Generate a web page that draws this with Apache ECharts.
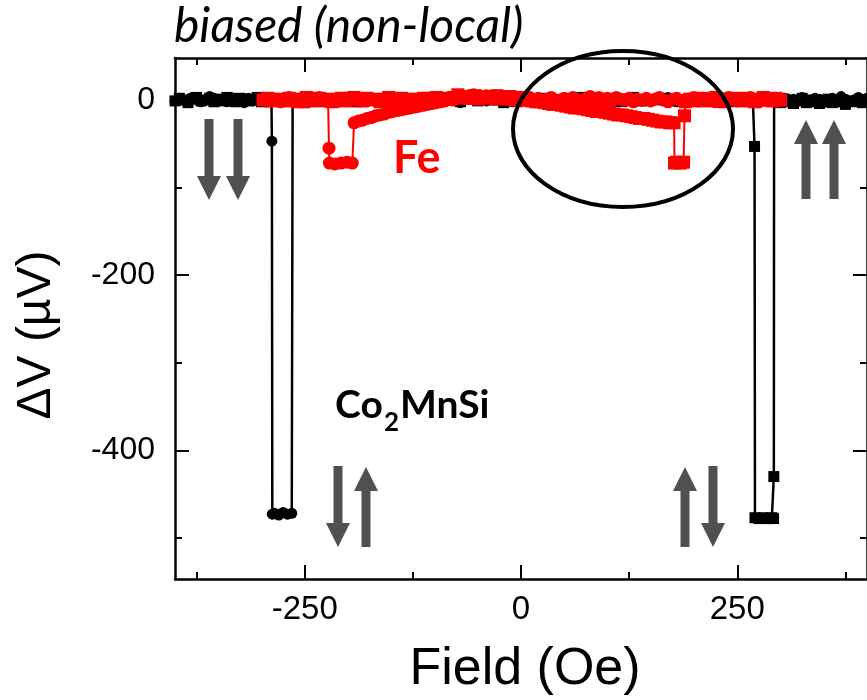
<!DOCTYPE html>
<html>
<head>
<meta charset="utf-8">
<script src="https://cdn.jsdelivr.net/npm/echarts@6/dist/echarts.min.js"></script>
<style>
  html, body { margin: 0; padding: 0; background: #fff; }
  #chart { width: 867px; height: 700px; }
</style>
</head>
<body>
<div id="chart"></div>
<script>
// tick positions
const xMajorTicks = [-250, 0, 250];
const xMinorTicks = [-375, -125, 125, 375];
const yMajorTicks = [-400, -200, 0];
const yMinorTicks = [-500, -300, -100];

// Co2MnSi, sweep switching at negative field (circles)
const cmsNegField = [
  400, 395, 390, 385, 380, 375, 370, 365, 360, 355,
  350, 345, 340, 335, 330, 325, 320, 315, 310, 305,
  300, 290, 280, 270, 260, 250, 240, 230, 220, 210,
  200, 190, 180, 170, 160, 150, 140, 130, 120, 110,
  100, 90, 80, 70, 60, 50, 40, 30, 20, 10,
  0, -10, -20, -30, -40, -50, -60, -70, -80, -90,
  -100, -110, -120, -130, -140, -150, -160, -170, -180, -190,
  -200, -210, -220, -230, -240, -250, -258, -264,
  -265, -270, -275, -280, -285, -287.5, -288, -288.5,
  -295, -300, -305, -310, -315, -320, -325, -330, -335, -340,
  -345, -350, -355, -360, -365, -370, -375, -380, -385, -390,
  -395, -400
];
const cmsNegDV = [
  2, -1, 3, 0, -2, 1, 4, -1, 2, 0,
  -3, 1, 2, -2, 0, 3, -1, 1, -2, 2,
  0, -1, 3, 1, -2, 0, 2, -3, 1, 0,
  2, -1, -2, 3, 0, 1, -1, 2, -2, 0,
  1, 3, -1, 0, 2, -2, 1, 0, -1, 3,
  0, -2, 1, 2, -1, 0, 2, -3, 1, 0,
  -1, 2, 1, -2, 0, 1, 2, 0, -1, 3,
  1, -2, 0, 2, -1, 1, 0, 1,
  -472, -473, -471, -474, -472, -473, -47, 1,
  -2, 3, 0, -1, 2, -3, 1, 0, 3, -2,
  1, -1, 2, 4, 0, -2, 1, 3, -1, 0,
  2, -1
];

// Co2MnSi, sweep switching at positive field (squares)
const cmsPosField = [
  -400, -395, -390, -385, -380, -375, -370, -365, -360, -355,
  -350, -345, -340, -335, -330, -325, -320, -315, -310, -305,
  -300, -290, -280, -270, -260, -250, -240, -230, -220, -210,
  -200, -190, -180, -170, -160, -150, -140, -130, -120, -110,
  -100, -90, -80, -70, -60, -50, -40, -30, -20, -10,
  0, 10, 20, 30, 40, 50, 60, 70, 80, 90,
  100, 110, 120, 130, 140, 150, 160, 170, 180, 190,
  200, 210, 220, 230, 240, 250, 260, 268,
  270, 270.5, 275, 280, 285, 290, 292, 292.3, 292.6,
  295, 300, 305, 310, 315, 320, 325, 330, 335, 340,
  345, 350, 355, 360, 365, 370, 375, 380, 385, 390,
  395, 400
];
const cmsPosDV = [
  -1, 2, 0, -3, 1, 3, -1, 0, 2, -2,
  1, -1, 3, 0, -2, 2, 1, -1, 0, 3,
  -2, 1, 0, 2, -1, -3, 1, 2, 0, -1,
  3, -2, 0, 1, -1, 2, 0, -2, 1, 3,
  -1, 0, 2, -2, 1, -1, 3, 0, -3, 1,
  2, 0, -1, 2, -2, 1, 0, 3, -1, 2,
  0, -2, 1, 3, -1, 0, 2, 1, -1, 0,
  2, -1, 1, 0, -2, 1, 2, 1,
  -53, -477, -478, -477, -478, -477, -478, -430, 0,
  0, -3, 1, -2, -4, -1, 2, -3, 0, -2,
  -4, -1, 1, -3, -2, 0, -5, -1, -2, 0,
  -3, -1
];

// Fe, sweep switching at negative field (circles)
const feNegField = [
  -298, -293, -288, -283, -278, -273, -268, -263, -258, -253,
  -248, -243, -238, -233, -228, -223, -222, -221.5, -215, -208,
  -201, -195, -193, -188, -183, -178, -173, -168, -163, -158,
  -153, -148, -143, -138, -133, -128, -123, -118, -113, -108,
  -103, -98, -93, -88, -83, -78, -75, -70, -65, -60,
  -55, -50, -45, -40, -35, -30, -25, -20, -15, -10,
  -5, 0, 5, 10, 15, 20, 25, 30, 35, 40,
  45, 50, 55, 60, 65, 70, 75, 80, 85, 90,
  95, 100, 105, 110, 115, 120, 125, 130, 135, 140,
  145, 150, 155, 160, 165, 170, 175, 180, 185, 190,
  195, 200, 205, 210, 215, 220, 225, 230, 235, 240,
  245, 250, 255, 260, 265, 270, 275, 280, 285, 290,
  295, 300
];
const feNegDV = [
  1, -1, 2, 0, -2, 1, 3, 0, -1, 2,
  -2, 1, 0, 3, -1, -2, -55, -72, -73, -72,
  -71, -72, -26, -24, -23, -21, -20, -18, -17, -16,
  -14, -13, -12, -11, -10, -9, -8, -7, -6, -5,
  -4, -3, -2, -1, 1, 0, 2, 4, 3, 5,
  6, 4, 2, 5, 3, 1, 3, 4, 2, 0,
  2, -1, 1, 3, 0, 2, -2, 1, 3, 0,
  -1, 2, 0, 3, 1, -1, 2, 4, 1, 3,
  0, 2, -1, 3, 1, 0, 2, -2, 1, 0,
  2, -1, 1, 3, 0, -2, 1, 2, -1, 0,
  1, 3, -1, 2, 0, 1, -2, 2, 0, 3,
  1, -1, 2, 0, 3, 1, -2, 0, 2, 1,
  -1, 0
];

// Fe, sweep switching at positive field (squares)
const fePosField = [
  300, 295, 290, 285, 280, 275, 270, 265, 260, 255,
  250, 245, 240, 235, 230, 225, 220, 215, 210, 205,
  200, 195, 190, 189, 188, 184, 180, 177.5, 177, 172,
  167, 162, 157, 152, 147, 142, 137, 132, 127, 122,
  117, 112, 107, 102, 97, 92, 87, 82, 77, 72,
  67, 62, 57, 52, 47, 42, 37, 32, 27, 22,
  17, 12, 7, 2, -3, -8, -13, -18, -23, -28,
  -33, -38, -43, -48, -53, -58, -63, -68, -73, -78,
  -83, -88, -93, -98, -103, -108, -113, -118, -123, -128,
  -133, -138, -143, -148, -153, -158, -163, -168, -173, -178,
  -183, -188, -193, -198, -203, -208, -213, -218, -223, -228,
  -233, -238, -243, -248, -253, -258, -263, -268, -273, -278,
  -283, -288, -293, -298
];
const fePosDV = [
  0, 2, -1, 1, 3, 0, -2, 1, 2, -1,
  0, 2, 1, -2, 1, 3, 0, -1, 2, 1,
  -1, 1, -2, -18, -71, -72, -71, -72, -26, -26,
  -25, -25, -24, -23, -22, -21, -21, -20, -19, -18,
  -17, -17, -16, -15, -14, -13, -13, -12, -11, -10,
  -9, -9, -8, -7, -6, -5, -5, -4, -3, -2,
  -2, -1, 0, 1, 3, 2, 4, 1, 3, 5,
  2, 4, 3, 1, 5, 3, 2, 4, 6, 3,
  1, 2, 0, 3, 1, -1, 2, 0, -2, 1,
  0, 2, -1, 1, 3, 0, -2, 1, 0, 2,
  -1, 1, 3, 0, -1, 2, 0, -2, 1, 0,
  2, -1, 1, 3, 0, -2, 1, 2, -1, 0,
  1, -1, 2, 0
];

const X_MIN = -400, X_MAX = 400;
const Y_MIN = -547, Y_MAX = 48;
const AXIS_FONT = 'Liberation Sans, Arial, sans-serif';
const TEXT_FONT = 'Lato, Open Sans, sans-serif';
const ARROW = '#505050';

const pairs = (xs, ys) => xs.map((x, i) => [x, ys[i]]);

function xAxis(position, ticks, len, main) {
  return {
    type: 'value', position: position, min: X_MIN, max: X_MAX,
    axisLine: { show: main, onZero: false, lineStyle: { color: '#000', width: 2.5 } },
    axisTick: { show: true, inside: true, length: len, customValues: ticks,
      lineStyle: { color: '#000', width: 2 } },
    axisLabel: { show: main && position === 'bottom', customValues: ticks, margin: 14,
      fontSize: 33, color: '#000', fontFamily: AXIS_FONT },
    splitLine: { show: false }
  };
}

function yAxis(position, ticks, len, main) {
  return {
    type: 'value', position: position, min: Y_MIN, max: Y_MAX,
    axisLine: { show: main, onZero: false, lineStyle: { color: '#000', width: 2.5 } },
    axisTick: { show: true, inside: true, length: len, customValues: ticks,
      lineStyle: { color: '#000', width: 2 } },
    axisLabel: { show: main && position === 'left', customValues: ticks, margin: 20,
      fontSize: 32, color: '#000', fontFamily: AXIS_FONT },
    splitLine: { show: false }
  };
}

function lineSeries(xs, ys, color, symbol, size, width) {
  return {
    type: 'line', xAxisIndex: 0, yAxisIndex: 0,
    data: pairs(xs, ys),
    symbol: symbol, symbolSize: size,
    itemStyle: { color: color },
    lineStyle: { color: color, width: width },
    emphasis: { disabled: true },
    silent: true
  };
}

function arrow(cx, top, bottom, up) {
  const hw = 12, sw = 4.5, hl = 24;
  let pts;
  if (up) {
    pts = [[cx, top], [cx + hw, top + hl], [cx + sw, top + hl], [cx + sw, bottom],
      [cx - sw, bottom], [cx - sw, top + hl], [cx - hw, top + hl]];
  } else {
    pts = [[cx, bottom], [cx + hw, bottom - hl], [cx + sw, bottom - hl], [cx + sw, top],
      [cx - sw, top], [cx - sw, bottom - hl], [cx - hw, bottom - hl]];
  }
  return { type: 'polygon', shape: { points: pts }, style: { fill: ARROW }, z: 100 };
}

function label(x, y, text, font, fill, extra) {
  return {
    type: 'text', x: x, y: y, z: 100,
    style: Object.assign({ text: text, font: font, fill: fill,
      textAlign: 'left', textVerticalAlign: 'middle' }, extra || {})
  };
}

const chart = echarts.init(document.getElementById('chart'));

chart.setOption({
  animation: false,
  backgroundColor: '#fff',
  grid: { left: 175, top: 58, width: 697, height: 521 },
  xAxis: [
    xAxis('bottom', xMajorTicks, 14, true),
    xAxis('bottom', xMinorTicks, 7, false),
    xAxis('top', xMajorTicks, 14, true),
    xAxis('top', xMinorTicks, 7, false)
  ],
  yAxis: [
    yAxis('left', yMajorTicks, 14, true),
    yAxis('left', yMinorTicks, 7, false),
    yAxis('right', yMajorTicks, 14, true),
    yAxis('right', yMinorTicks, 7, false)
  ],
  series: [
    lineSeries(cmsNegField, cmsNegDV, '#000', 'circle', 11, 2.5),
    lineSeries(cmsPosField, cmsPosDV, '#000', 'rect', 11, 2.5),
    lineSeries(feNegField, feNegDV, '#ff0000', 'circle', 13, 2),
    lineSeries(fePosField, fePosDV, '#ff0000', 'rect', 13, 2)
  ],
  graphic: [
    label(174, 27, 'biased (non-local)', 'italic 48px ' + TEXT_FONT, '#000'),
    label(525, 670, 'Field (Oe)', '52px ' + AXIS_FONT, '#000', { textAlign: 'center' }),
    Object.assign(label(37, 335, 'ΔV (µV)', '48px ' + AXIS_FONT, '#000', { textAlign: 'center' }),
      { rotation: Math.PI / 2 }),
    label(393, 158, 'Fe', 'bold 45px ' + TEXT_FONT, '#ff0000'),
    label(335, 405, 'Co', 'bold 39px ' + TEXT_FONT, '#000'),
    label(384, 423, '2', 'bold 26px ' + TEXT_FONT, '#000'),
    label(400, 405, 'MnSi', 'bold 39px ' + TEXT_FONT, '#000'),
    {
      type: 'ellipse', z: 100,
      shape: { cx: 623, cy: 129, rx: 110, ry: 78 },
      style: { fill: 'none', stroke: '#000', lineWidth: 4 }
    },
    arrow(209, 119, 200, false),
    arrow(238, 119, 200, false),
    arrow(806, 120, 199, true),
    arrow(834, 120, 199, true),
    arrow(338, 466, 547, false),
    arrow(366, 467, 547, true),
    arrow(685, 467, 547, true),
    arrow(713, 466, 547, false)
  ]
});
</script>
</body>
</html>
